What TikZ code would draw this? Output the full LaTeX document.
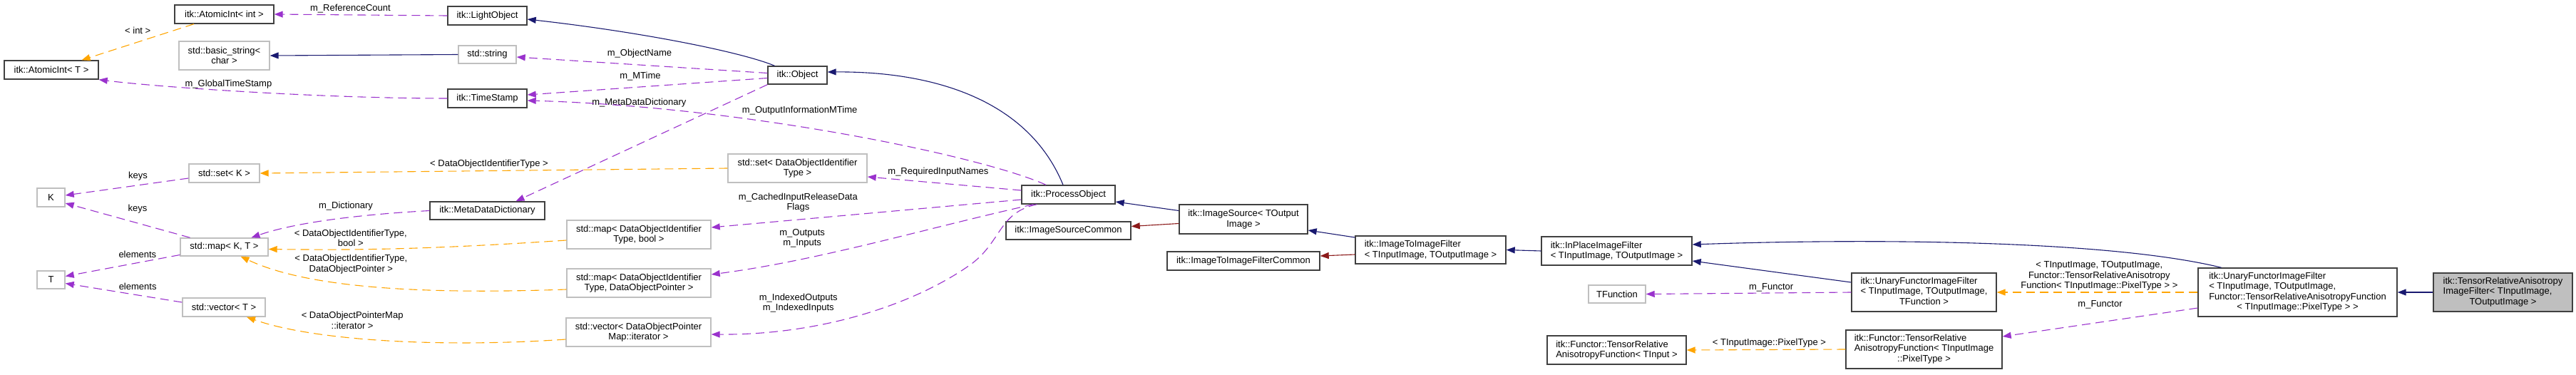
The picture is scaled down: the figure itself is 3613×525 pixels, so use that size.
\documentclass[tikz,border=0pt]{standalone}
\usepackage{fontspec}
\setmainfont{Liberation Sans}
\usepackage{tikz}
\usetikzlibrary{arrows.meta}
\definecolor{dxnavy}{RGB}{25,25,112}
\definecolor{dxpurple}{RGB}{154,50,205}
\definecolor{dxorange}{RGB}{255,165,0}
\definecolor{dxred}{RGB}{139,26,26}
\definecolor{dxedge}{RGB}{64,64,64}
\definecolor{dxgray}{RGB}{191,191,191}
% lines left aligned, last one centred (doxygen style)
\newcommand{\dlines}[1]{\begin{tabular}{@{}l@{}}#1\end{tabular}}
\newcommand{\lastc}[1]{\multicolumn{1}{@{}c@{}}{#1}}

\begin{document}
\begin{tikzpicture}[
  x=1pt, y=-1pt,
  font=\fontsize{13}{14.5}\selectfont,
  cls/.style={draw=dxedge, line width=1.4pt, fill=white, inner sep=0pt, align=center},
  ext/.style={cls, draw=dxgray},
  me/.style={cls, fill=dxgray},
  inh/.style={-{Triangle[length=12pt,width=9pt]}, line width=1.1pt, draw=dxnavy},
  prv/.style={inh, draw=dxred},
  use/.style={inh, draw=dxpurple, dash pattern=on 12pt off 7pt},
  tmpl/.style={use, draw=dxorange},
  lbl/.style={inner sep=0pt, align=center},
]
\path[use as bounding box, fill=white] (0,0) rectangle (3613,525);

% ---- left: templates and std containers ----
\node[cls, minimum width=139pt, minimum height=26pt] (aint) at (314.5,20) {itk::AtomicInt< int >};
\node[ext, minimum width=127pt, minimum height=40pt] (bstr) at (314.5,78) {std::basic\_string<\\char >};
\node[cls, minimum width=132pt, minimum height=26pt] (aintT) at (72,98) {itk::AtomicInt< T >};
\node[ext, minimum width=99pt, minimum height=26pt] (setK) at (314.5,243) {std::set< K >};
\node[ext, minimum width=39pt, minimum height=26pt] (K) at (71.5,277) {K};
\node[ext, minimum width=123pt, minimum height=25pt] (mapKT) at (314.5,346.5) {std::map< K, T >};
\node[ext, minimum width=39pt, minimum height=25pt] (T) at (71.5,392.5) {T};
\node[ext, minimum width=116pt, minimum height=26pt] (vecT) at (314,431) {std::vector< T >};

% ---- members of Object / ProcessObject ----
\node[cls, minimum width=111pt, minimum height=26pt] (light) at (683.5,22) {itk::LightObject};
\node[ext, minimum width=81pt, minimum height=25pt] (str) at (683.5,76.5) {std::string};
\node[cls, minimum width=111pt, minimum height=26pt] (tstamp) at (683.5,138) {itk::TimeStamp};
\node[cls, minimum width=161pt, minimum height=25pt] (mdd) at (683.5,295.5) {itk::MetaDataDictionary};
\node[ext, minimum width=202pt, minimum height=40pt] (mapbool) at (896,329)
  {std::map< DataObjectIdentifier\\Type, bool >};
\node[ext, minimum width=202pt, minimum height=40pt] (mapdop) at (896,397)
  {std::map< DataObjectIdentifier\\Type, DataObjectPointer >};
\node[ext, minimum width=203pt, minimum height=40pt] (vecit) at (895.5,466)
  {std::vector< DataObjectPointer\\Map::iterator >};
\node[cls, minimum width=83pt, minimum height=25pt] (obj) at (1118.5,105.5) {itk::Object};
\node[ext, minimum width=195pt, minimum height=40pt] (setdoit) at (1118.5,236)
  {std::set< DataObjectIdentifier\\Type >};

% ---- filter hierarchy ----
\node[cls, minimum width=131pt, minimum height=26pt] (proc) at (1498.5,273) {itk::ProcessObject};
\node[cls, minimum width=175pt, minimum height=25pt] (isc) at (1498.5,323.5) {itk::ImageSourceCommon};
\node[cls, minimum width=180pt, minimum height=41pt] (isrc) at (1744,307.5) {itk::ImageSource< TOutput\\Image >};
\node[cls, minimum width=214pt, minimum height=26pt] (itifc) at (1744,366) {itk::ImageToImageFilterCommon};
\node[cls, align=left, minimum width=211pt, minimum height=39pt] (itif) at (2006.5,350.5)
  {itk::ImageToImageFilter\\< TInputImage, TOutputImage >};
\node[cls, align=left, minimum width=211pt, minimum height=40pt] (inplace) at (2267.5,352)
  {itk::InPlaceImageFilter\\< TInputImage, TOutputImage >};
\node[ext, minimum width=80pt, minimum height=25pt] (tfunc) at (2268,412.5) {TFunction};
\node[cls, align=left, minimum width=195pt, minimum height=40pt] (traf) at (2267.5,491)
  {itk::Functor::TensorRelative\\AnisotropyFunction< TInput >};
\node[cls, minimum width=203pt, minimum height=54pt] (ufif) at (2698.5,410)
  {\dlines{itk::UnaryFunctorImageFilter\\< TInputImage, TOutputImage,\\ \lastc{TFunction >}}};
\node[cls, minimum width=219pt, minimum height=54pt] (trafpix) at (2698.5,490)
  {\dlines{itk::Functor::TensorRelative\\AnisotropyFunction< TInputImage\\ \lastc{::PixelType >}}};
\node[cls, minimum width=279pt, minimum height=68pt] (ufitra) at (3222.5,410)
  {\dlines{itk::UnaryFunctorImageFilter\\< TInputImage, TOutputImage,\\Functor::TensorRelativeAnisotropyFunction\\ \lastc{< TInputImage::PixelType > >}}};
\node[me, minimum width=195pt, minimum height=54pt] (trai) at (3510.5,410)
  {\dlines{itk::TensorRelativeAnisotropy\\ImageFilter< TInputImage,\\ \lastc{TOutputImage >}}};

% ---- Object and its members ----
\draw[inh] ([xshift=-32pt]obj.north) .. controls (1040,73) and (900,45) .. ([yshift=-5pt]light.east);
\draw[use] (light.west) -- node[lbl, pos=0.56, yshift=9pt] {m\_ReferenceCount} (aint.east);
\draw[tmpl] (aint) -- node[lbl, yshift=16pt] {< int >} (aintT);
\draw[use] ([yshift=3pt]obj.west) -- node[lbl, pos=0.51, yshift=16pt] {m\_ObjectName} ([yshift=-3.5pt]str.east);
\draw[inh] (str.west) -- (bstr.east);
\draw[use] ([yshift=-4pt]obj.west) -- node[lbl, pos=0.53, yshift=15pt] {m\_MTime} ([yshift=5pt]tstamp.east);
\draw[use] (tstamp.west) .. controls (450,138) and (220,122) ..
  node[lbl, pos=0.55, yshift=9pt] {m\_GlobalTimeStamp} (aintT.south east);
\draw[use] (obj.south west) -- node[lbl, pos=0.51, yshift=58pt] {m\_MetaDataDictionary} ([xshift=40pt]mdd.north);
\draw[use] (mdd.west) .. controls (520,300) and (420,310) ..
  node[lbl, pos=0.45, yshift=16pt] {m\_Dictionary} ([xshift=38pt]mapKT.north);

% ---- std containers ----
\draw[tmpl] (setdoit.west) -- node[lbl, pos=0.51, yshift=9pt] {< DataObjectIdentifierType >} (setK.east);
\draw[use] ([yshift=-7pt]setK.west) -- node[lbl, pos=0.41, yshift=13pt] {keys} ([yshift=3pt]K.east);
\draw[use] ([xshift=-48pt]mapKT.north) -- node[lbl, pos=0.42, yshift=19.5pt] {keys} ([yshift=-8pt]K.east);
\draw[use] ([yshift=-11pt]mapKT.west) -- node[lbl, pos=0.37, yshift=12pt] {elements} ([yshift=5pt]T.east);
\draw[use] ([yshift=7pt]vecT.west) -- node[lbl, pos=0.38, yshift=12pt] {elements} ([yshift=-5pt]T.east);
\draw[tmpl] ([yshift=-8pt]mapbool.west) .. controls (600,350) and (500,351) ..
  node[lbl, pos=0.68, yshift=16pt] {< DataObjectIdentifierType,\\bool >} ([yshift=-3pt]mapKT.east);
\draw[tmpl] ([yshift=-9pt]mapdop.west) .. controls (620,412) and (440,408) ..
  node[lbl, pos=0.6, yshift=28pt] {< DataObjectIdentifierType,\\DataObjectPointer >} ([xshift=23pt]mapKT.south);
\draw[tmpl] ([yshift=-10pt]vecit.west) .. controls (620,488) and (440,478) ..
  node[lbl, pos=0.6, yshift=24pt] {< DataObjectPointerMap\\::iterator >} ([xshift=32pt]vecT.south);

% ---- ProcessObject ----
\draw[inh] ([xshift=-7.5pt]proc.north) .. controls (1440,135) and (1300,100) .. ([yshift=4.5pt]obj.east);
\draw[use] ([xshift=-31.5pt]proc.north) .. controls (1380,220) and (1050,150) ..
  node[lbl, pos=0.58, yshift=23pt] {m\_OutputInformationMTime} ([yshift=-3pt]tstamp.east);
\draw[use] ([yshift=6pt]proc.west) -- node[lbl, pos=0.54, yshift=16pt] {m\_RequiredInputNames} ([yshift=-12pt]setdoit.east);
\draw[use] ([yshift=-7pt]proc.west) -- node[lbl, pos=0.72, yshift=24pt] {m\_CachedInputReleaseData\\Flags} ([yshift=10pt]mapbool.east);
\draw[use] ([xshift=17pt]proc.south west) .. controls (1300,320) and (1150,365) ..
  node[lbl, pos=0.72, yshift=29pt] {m\_Outputs\\m\_Inputs} ([yshift=12pt]mapdop.east);
\draw[use] ([xshift=22pt]proc.south west) .. controls (1400,298) and (1405,340) .. (1360,372)
  .. controls (1280,428) and (1150,470) ..
  node[lbl, pos=0.72, yshift=35pt] {m\_IndexedOutputs\\m\_IndexedInputs} ([yshift=-3pt]vecit.east);

% ---- image filters ----
\draw[inh] ([yshift=12pt]isrc.west) -- ([yshift=-10pt]proc.east);
\draw[prv] ([yshift=-6pt]isrc.west) -- ([yshift=6pt]isc.east);
\draw[inh] ([yshift=17.5pt]itif.west) -- ([yshift=-15.5pt]isrc.east);
\draw[prv] ([yshift=-6.5pt]itif.west) -- ([yshift=7pt]itifc.east);
\draw[inh] (inplace.west) -- (itif.east);
\draw[inh] ([yshift=14pt]ufif.west) -- ([yshift=-14pt]inplace.east);
\draw[inh] ([xshift=-107pt]ufitra.north) .. controls (2950,335) and (2600,335) .. ([yshift=9pt]inplace.east);
\draw[use] (ufif.west) -- node[lbl, pos=0.39, yshift=8pt] {m\_Functor} (tfunc.east);
\draw[tmpl] (ufitra.west) -- node[lbl, pos=0.49, yshift=23pt]
  {< TInputImage, TOutputImage,\\Functor::TensorRelativeAnisotropy\\Function< TInputImage::PixelType > >} (ufif.east);
\draw[use] ([yshift=-22pt]ufitra.west) -- node[lbl, pos=0.5, yshift=25pt] {m\_Functor} ([yshift=18pt]trafpix.east);
\draw[tmpl] (trafpix.west) -- node[lbl, pos=0.48, yshift=9pt] {< TInputImage::PixelType >} (traf.east);
\draw[inh] (trai.west) -- (ufitra.east);
\end{tikzpicture}
\end{document}
